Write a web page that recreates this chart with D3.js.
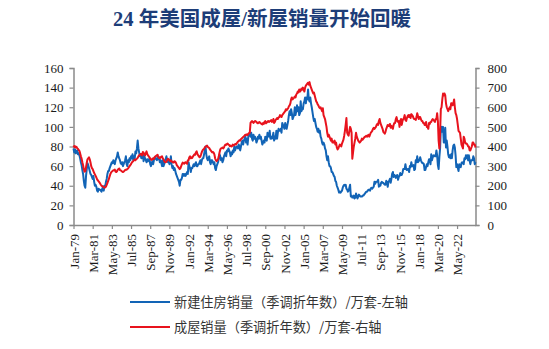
<!DOCTYPE html>
<html><head><meta charset="utf-8">
<script src="https://cdn.jsdelivr.net/npm/d3@7/dist/d3.min.js"></script>
<style>body{margin:0;background:#fff}svg{display:block}</style>
</head><body>
<svg id="chart" width="549" height="349"></svg>
<script>
const titleText = "24 年美国成屋/新屋销量开始回暖";
const seriesNames = ["新建住房销量（季调折年数）/万套-左轴", "成屋销量（季调折年数）/万套-右轴"];
const xTickStep = 26;
const xTickLabels = ["Jan-79","Mar-81","May-83","Jul-85","Sep-87","Nov-89","Jan-92","Mar-94","May-96","Jul-98","Sep-00","Nov-02","Jan-05","Mar-07","May-09","Jul-11","Sep-13","Nov-15","Jan-18","Mar-20","May-22"];
const leftTicks = [0,20,40,60,80,100,120,140,160];
const rightTicks = [0,100,200,300,400,500,600,700,800];

// monthly, Jan-1979 .. Jun-2024, 万套 (SAAR)
const newHomeSales = [
78,74,77,73,75,76,72,73,71,68,64,61,
56,52,45,40,38,50,57,63,61,58,55,52,
51,49,47,50,44,40,41,39,35,34,37,36,
36,35,34,37,39,35,40,39,44,47,52,55,
55,58,60,62,64,63,66,64,62,66,68,70,
74,70,68,66,63,62,64,60,62,64,66,70,
62,60,66,64,68,66,70,68,72,66,70,68,
75,73,78,86,78,74,70,72,68,70,72,65,
70,68,66,64,67,65,66,68,62,60,63,65,
62,66,69,68,67,66,70,67,69,64,66,64,
60,66,60,62,66,67,70,66,64,66,62,64,
70,62,58,60,56,58,55,52,50,48,46,44,
40,46,46,48,52,52,50,52,50,52,54,52,
64,60,58,54,58,58,60,62,60,62,64,60,
60,62,62,64,66,62,66,68,68,72,76,80,
72,68,66,68,70,64,62,66,66,64,62,64,
58,56,60,62,64,68,72,70,66,68,64,66,
70,72,74,70,76,75,78,76,74,70,74,72,
76,74,80,76,78,80,80,78,82,80,76,80,
84,86,82,86,88,90,84,88,82,90,92,94,
90,94,88,86,92,88,90,88,84,86,90,88,
92,88,90,86,82,84,86,84,90,88,86,94,
92,90,96,88,90,88,90,94,86,90,88,96,
88,94,98,96,96,98,94,104,102,100,98,104,
100,98,102,106,112,116,112,118,114,108,110,112,
120,112,116,122,116,120,112,114,126,116,118,118,
124,126,130,124,130,128,138,128,126,130,124,120,
115,110,106,108,104,100,98,95,98,94,96,90,
88,84,82,84,82,78,76,70,66,70,64,60,
60,58,54,54,52,50,49,45,44,40,38,36,
33,34,33,34,35,38,40,41,40,41,37,36,
34,35,38,41,29,30,28,28,30,27,28,32,
30,27,29,31,30,29,29,29,30,30,31,32,
33,34,34,35,36,36,35,37,38,37,38,39,
44,42,44,44,44,46,39,40,40,43,44,43,
43,42,41,41,45,44,39,44,45,47,43,47,
52,54,49,51,50,48,50,51,46,49,50,53,
51,51,53,57,57,57,62,57,56,57,57,54,
60,59,64,60,60,61,56,57,66,64,70,64,
65,66,69,66,64,63,63,62,56,56,59,62,
60,64,67,67,62,72,66,69,71,70,71,70,
76,71,61,57,69,78,98,100,95,100,84,84,
99,79,86,80,72,69,71,68,72,68,76,81,
82,79,71,59,62,58,55,62,60,59,63,64,
63,62,68,67,71,68,71,66,71,66,62,66,
66,66,70,68,62,64
];
const existingHomeSales = [
405,398,402,395,398,392,388,382,378,365,350,338,
320,305,285,272,275,295,318,335,340,345,335,320,
300,290,285,275,265,258,250,242,232,228,222,218,
212,205,200,198,196,192,190,192,196,205,214,225,
235,248,260,268,272,276,278,280,282,272,270,274,
282,285,288,280,278,276,272,270,272,276,280,282,
282,285,288,294,300,305,310,318,322,325,330,334,
330,335,338,342,350,355,358,362,360,355,372,368,
360,355,365,375,362,355,350,345,338,334,332,338,
340,336,345,350,352,355,358,345,342,340,345,348,
350,340,335,325,320,320,322,330,338,335,330,325,
330,325,320,322,318,325,322,316,305,300,295,290,
285,290,300,310,318,315,312,318,320,315,312,330,
330,345,350,340,345,342,350,355,360,358,370,375,
362,355,350,345,350,360,372,380,385,388,395,400,
400,405,398,395,392,385,380,375,370,372,368,360,
340,330,325,330,335,350,370,385,390,392,395,390,
395,405,410,408,412,415,410,408,402,405,400,402,
410,405,408,412,410,415,420,425,428,432,430,438,
440,445,448,452,455,460,458,462,458,465,468,470,
520,525,530,525,520,525,530,528,525,520,518,522,
525,520,518,515,512,520,515,525,530,518,522,526,
530,525,528,530,535,525,530,540,520,525,535,540,
545,540,548,550,560,555,550,560,565,570,575,580,
590,585,590,595,605,610,620,640,650,640,645,648,
655,650,665,670,680,675,690,680,685,695,690,700,
690,680,700,710,715,720,725,715,728,710,700,690,
680,670,675,660,645,630,625,615,610,600,595,600,
590,580,595,560,550,540,520,500,470,450,460,450,
440,430,440,420,425,420,430,410,420,395,385,390,
400,410,405,400,415,425,435,455,480,510,545,470,
460,455,480,500,490,470,338,370,400,420,440,470,
450,440,430,425,420,425,430,440,435,440,445,450,
450,455,450,455,460,450,460,470,475,480,490,495,
490,495,500,510,515,510,530,540,520,510,500,490,
475,470,465,475,490,500,510,505,505,515,495,505,
500,490,510,520,520,540,550,530,525,530,500,530,
540,510,530,540,545,560,535,530,545,555,560,550,
560,545,565,560,555,545,540,540,535,550,570,555,
540,550,550,540,530,530,520,520,510,510,525,500,
500,490,520,515,525,525,535,540,535,530,525,540,
540,570,530,430,390,470,590,600,640,670,660,670,
660,620,600,590,580,590,600,590,620,620,610,620,
640,600,570,560,540,510,480,475,470,440,410,400,
390,450,440,420,415,415,410,400,400,380,380,390,
400,420,420,410,410,395
];

const colors = {blue: "#1264B6", red: "#E8131D", axis: "#8a8a8a", text: "#1a1a1a", title: "#1D3D78"};
const svg = d3.select("#chart");
svg.append("rect").attr("width", 549).attr("height", 349).attr("fill", "#fff");

const X0 = 73.5, X1 = 475.5, Y0 = 225, Y1 = 68;
const N = newHomeSales.length;
const x = d3.scaleLinear().domain([0, N - 1]).range([X0, X1]);
const yL = d3.scaleLinear().domain([0, 160]).range([Y0, Y1]);
const yR = d3.scaleLinear().domain([0, 800]).range([Y0, Y1]);

svg.append("text").attr("x", 262).attr("y", 26).attr("text-anchor", "middle")
  .attr("font-family", "'Liberation Serif','Noto Sans CJK SC',serif")
  .attr("font-weight", "bold").attr("font-size", 20.5).attr("fill", colors.title)
  .text(titleText);

const serif = "'Liberation Serif','Times New Roman',serif";

// axes
const gL = svg.append("g").attr("transform", `translate(${X0},0)`)
  .call(d3.axisLeft(yL).tickValues(leftTicks).tickSize(4).tickPadding(6));
const gR = svg.append("g").attr("transform", `translate(${X1},0)`)
  .call(d3.axisRight(yR).tickValues(rightTicks).tickSize(4).tickPadding(8));
const tickIdx = xTickLabels.map((d, i) => i * xTickStep);
const gB = svg.append("g").attr("transform", `translate(0,${Y0})`)
  .call(d3.axisBottom(x).tickValues(tickIdx).tickFormat((d, i) => xTickLabels[i]).tickSize(4).tickSizeOuter(0));

[gL, gR, gB].forEach(g => {
  g.selectAll("path.domain").attr("stroke", colors.axis).attr("stroke-width", 1.5);
  g.selectAll(".tick line").attr("stroke", colors.axis).attr("stroke-width", 1.2);
  g.selectAll("text").attr("font-family", serif).attr("font-size", 13).attr("fill", colors.text);
});
gB.selectAll(".tick text")
  .attr("transform", "rotate(-90)")
  .attr("text-anchor", "end")
  .attr("x", -9).attr("y", 0).attr("dy", "0.35em");

// lines
const lineL = d3.line().x((d, i) => x(i)).y(d => yL(d));
const lineR = d3.line().x((d, i) => x(i)).y(d => yR(d));
svg.append("path").datum(newHomeSales).attr("d", lineL)
  .attr("fill", "none").attr("stroke", colors.blue).attr("stroke-width", 2).attr("stroke-linejoin", "round");
svg.append("path").datum(existingHomeSales).attr("d", lineR)
  .attr("fill", "none").attr("stroke", colors.red).attr("stroke-width", 2).attr("stroke-linejoin", "round");

// legend
const legend = svg.append("g");
[[colors.blue, 302], [colors.red, 327]].forEach(([c, yy], i) => {
  legend.append("line").attr("x1", 130).attr("x2", 170).attr("y1", yy).attr("y2", yy)
    .attr("stroke", c).attr("stroke-width", 2);
  legend.append("text").attr("x", 174).attr("y", yy).attr("dy", "0.36em")
    .attr("font-family", "'Noto Sans CJK SC',sans-serif").attr("font-size", 13.2)
    .attr("fill", "#333").text(seriesNames[i]);
});
</script>
</body></html>
